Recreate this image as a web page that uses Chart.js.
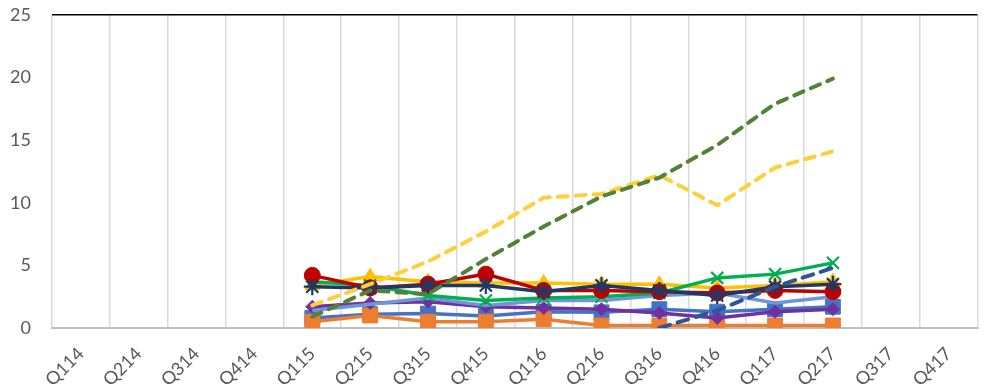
<!DOCTYPE html>
<html>
<head>
<meta charset="utf-8">
<script src="https://cdn.jsdelivr.net/npm/chart.js@4/dist/chart.umd.min.js"></script>
<style>
  html, body { margin: 0; padding: 0; background: #ffffff; }
  #wrap { width: 989px; height: 389px; position: relative; }
</style>
</head>
<body>
<div id="wrap"><canvas id="chart"></canvas></div>
<script>
// Quarter labels along the x axis
const quarters = ['Q114','Q214','Q314','Q414','Q115','Q215','Q315','Q415',
                  'Q116','Q216','Q316','Q416','Q117','Q217','Q317','Q417'];

// Value scale ticks
const yTicks = [0, 5, 10, 15, 20, 25];

// Series values, Q115 .. Q217 (earlier/later quarters empty)
const seriesOrange     = [0.5, 1.0, 0.5, 0.5, 0.7, 0.2, 0.2, 0.2, 0.2, 0.2];
const seriesBlue       = [0.8, 1.1, 1.15, 0.95, 1.3, 1.25, 1.5, 1.3, 1.5, 1.7];
const seriesPurple     = [1.7, 2.0, 2.1, 1.7, 1.6, 1.5, 1.2, 0.8, 1.3, 1.5];
const seriesLightBlue  = [1.4, 1.9, 2.4, 1.8, 2.2, 2.2, 2.6, 2.8, 2.0, 2.5];
const seriesGreen      = [3.7, 3.4, 2.6, 2.2, 2.4, 2.5, 2.8, 4.0, 4.3, 5.2];
const seriesGold       = [3.4, 4.1, 3.7, 3.6, 3.6, 3.5, 3.5, 3.2, 3.4, 3.7];
const seriesNavy       = [3.3, 3.2, 3.4, 3.4, 2.9, 3.4, 3.0, 2.6, 3.3, 3.5];
const seriesRed        = [4.2, 3.2, 3.5, 4.3, 3.0, 3.0, 2.9, 2.8, 3.0, 2.9];
const seriesGoldDash   = [1.8, 3.5, 5.3, 7.7, 10.4, 10.7, 12.2, 9.8, 12.8, 14.1];
const seriesGreenDash  = [0.9, 3.0, 2.7, 5.5, 8.1, 10.5, 12.0, 14.6, 17.9, 19.9];
const seriesBlueDash   = [0.0, 1.4, 3.3, 4.8];

// Place a partial series onto the full quarter list
function place(values, startLabel) {
  const start = quarters.indexOf(startLabel);
  return quarters.map((_, i) => {
    const k = i - start;
    return (k >= 0 && k < values.length) ? values[k] : null;
  });
}

function solid(label, values, color, style, radius, extra) {
  return Object.assign({
    label: label,
    data: place(values, 'Q115'),
    borderColor: color,
    backgroundColor: color,
    borderWidth: 3.5,
    pointStyle: style,
    pointRadius: radius,
    pointBorderColor: color,
    pointBackgroundColor: color,
    pointBorderWidth: 1,
    tension: 0
  }, extra || {});
}

function dashed(label, values, start, color, dash) {
  return {
    label: label,
    data: place(values, start),
    borderColor: color,
    backgroundColor: color,
    borderWidth: 4,
    borderDash: dash,
    borderCapStyle: 'round',
    pointRadius: 0,
    tension: 0
  };
}

// Listed top-most first (Chart.js paints dataset 0 last)
const datasets = [
  dashed('Series K', seriesBlueDash, 'Q316', '#2f5597', [11, 8]),
  dashed('Series J', seriesGreenDash, 'Q115', '#548235', [10, 8]),
  dashed('Series I', seriesGoldDash, 'Q115', '#ffcf3a', [10, 8]),
  solid('Series H', seriesNavy, '#203864', 'star', 8.5, { pointBorderWidth: 2.2 }),
  solid('Series G', seriesRed, '#c00000', 'circle', 8),
  solid('Series F', seriesGreen, '#00b050', 'crossRot', 8.5, { pointBorderWidth: 2.2 }),
  solid('Series E', seriesGold, '#ffc000', 'triangle', 8.5),
  solid('Series D', seriesLightBlue, '#6d97d8', 'circle', 0),
  solid('Series C', seriesPurple, '#7030a0', 'rectRot', 6.5),
  solid('Series A', seriesOrange, '#ed7d31', 'rect', 10.5),
  solid('Series B', seriesBlue, '#4472c4', 'rect', 10.5)
];

const tickFont = { family: 'Lato, "Open Sans", sans-serif', size: 18 };

new Chart(document.getElementById('chart'), {
  type: 'line',
  data: { labels: quarters, datasets: datasets },
  options: {
    responsive: true,
    maintainAspectRatio: false,
    animation: false,
    layout: { padding: 0 },
    plugins: { legend: { display: false }, tooltip: { enabled: false } },
    scales: {
      x: {
        offset: true,
        grid: {
          offset: true,
          color: '#d9d9d9',
          lineWidth: 1.5,
          drawTicks: false
        },
        border: { display: true, color: '#bfbfbf', width: 2 },
        ticks: {
          color: '#595959',
          font: tickFont,
          minRotation: 45,
          maxRotation: 45,
          padding: 15,
          autoSkip: false
        },
        afterFit: (scale) => { scale.height = 61; }
      },
      y: {
        min: 0,
        max: 25,
        afterBuildTicks: (scale) => { scale.ticks = yTicks.map(v => ({ value: v })); },
        grid: {
          drawTicks: true,
          tickLength: 17,
          tickColor: 'rgba(0,0,0,0)',
          color: (ctx) => ctx.tick && ctx.tick.value === 25 ? '#000000' : 'rgba(0,0,0,0)',
          lineWidth: 1.5
        },
        border: { display: false },
        ticks: {
          color: '#595959',
          font: tickFont,
          padding: 4
        },
        afterFit: (scale) => { scale.width = 52; }
      }
    }
  }
});
</script>
</body>
</html>
